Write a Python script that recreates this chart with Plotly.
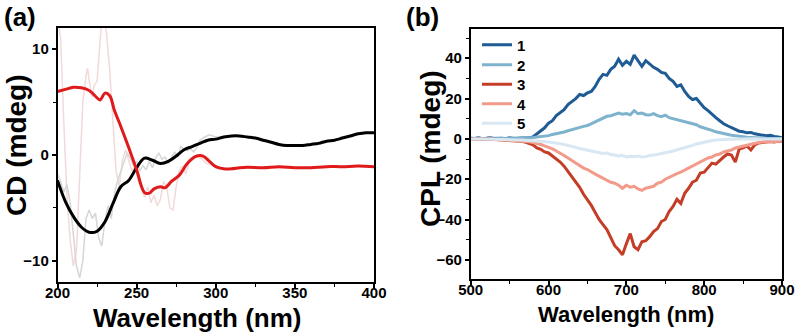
import plotly.graph_objects as go

# ---------------- Panel (a): CD ----------------
cd_wl = [200, 205, 210, 215, 220, 225, 230, 235, 240, 245, 250, 255, 260, 265, 270, 275, 280, 285,
         290, 295, 300, 305, 310, 315, 320, 325, 330, 335, 340, 345, 350, 355, 360, 365, 370, 375,
         380, 385, 390, 395, 400]
cd_black = [-2.4, -4.4, -5.8, -6.8, -7.3, -7.2, -6.3, -4.6, -3.0, -2.4, -1.2, -0.3, -0.5, -0.8, -0.6,
            -0.1, 0.5, 0.8, 1.1, 1.4, 1.5, 1.7, 1.8, 1.8, 1.7, 1.6, 1.4, 1.2, 1.0, 0.9, 0.9, 0.9, 1.0,
            1.1, 1.3, 1.4, 1.6, 1.8, 2.0, 2.1, 2.1]

cd_red_wl = [200, 205, 210, 215, 220, 225, 227, 230, 233, 236, 240, 245, 250, 255, 258, 261, 265, 268,
             272, 277, 282, 287, 292, 296, 300, 305, 310, 315, 320, 330, 340, 350, 360, 370, 380, 390, 400]
cd_red = [6.0, 6.2, 6.4, 6.35, 6.1, 5.4, 5.2, 5.85, 5.6, 4.2, 2.7, 0.7, -1.4, -3.55, -3.6, -3.2, -3.0,
          -3.1, -2.5, -1.9, -0.8, -0.15, -0.1, -0.6, -1.1, -1.3, -1.3, -1.2, -1.15, -1.2, -1.1, -1.2,
          -1.2, -1.1, -1.1, -1.05, -1.1]

raw_grey_wl = [200, 202, 204, 206, 208, 210, 212, 214, 216, 218, 220, 222, 224, 226, 228, 230, 232, 234,
               236, 238, 240, 242, 244, 246, 248, 250, 252, 254, 256, 258, 260, 262, 264, 266, 268, 270,
               272, 274, 276, 278, 280, 282, 284, 286, 288, 290, 293, 296, 300, 305, 310]
raw_grey = [-1.8, -2.5, -3.5, -2.8, -4.5, -7.5, -10.5, -11.6, -10.0, -6.0, -5.2, -6.0, -5.5, -7.8, -8.6,
            -6.2, -4.8, -6.0, -3.6, -2.4, -1.5, -0.5, 0.2, -0.3, -1.0, -0.6, -1.5, -1.0, -1.4, -0.6,
            -1.2, -0.3, 0.2, -0.4, -0.2, -0.8, -0.3, 0.3, -0.2, 0.8, 0.5, 0.4, 0.6, 0.3, 0.7, 1.4, 1.7,
            1.9, 1.7, 1.7, 1.8]

raw_pink_wl = [200, 202, 204, 206, 208, 210, 212, 214, 216, 218, 219, 220, 222, 223, 225, 227, 228, 230,
               231, 233, 235, 237, 239, 241, 243, 245, 247, 249, 251, 253, 255, 257, 259, 261, 263, 265,
               267, 269, 271, 273, 275, 277, 279, 281, 283, 285, 288, 291, 294, 297, 300, 305, 310]
raw_pink = [13.0, 11.0, 3.0, -4.0, -8.0, -10.5, -9.0, -2.0, 5.0, 7.5, 8.2, 7.0, 5.5, 6.5, 7.0, 11.0, 12.5,
            12.5, 11.5, 8.0, 3.0, -1.5, -3.0, -0.5, 0.5, -0.5, -1.5, -1.0, -2.5, -3.0, -4.0, -3.0, -4.5,
            -3.8, -4.8, -4.2, -2.5, -3.0, -5.0, -5.2, -3.0, -1.5, -1.0, -1.8, -0.8, -0.5, -0.2, -0.3,
            -0.8, -0.9, -1.2, -1.3, -1.3]

# ---------------- Panel (b): CPL ----------------
cpl_wl = list(range(500, 905, 5))
cpl_1 = [0.3, 0.2, 0.5, 0.1, 0.3, 0.6, 0.2, 0.4, 0.3, 0.1, 0.5, 0.2, 0.3, 0.4, 0.6, 0.5,
         1.0, 2.5, 4.2, 5.5, 7.8, 9.0, 11.5, 12.8, 14.5, 17.0, 18.5, 20.0, 22.0, 21.5, 22.8, 23.5,
         26.0, 29.5, 32.0, 31.5, 34.5, 36.0, 39.5, 36.5, 38.5, 37.0, 41.5, 38.5, 36.0, 38.8, 37.0,
         35.5, 34.5, 33.0, 32.5, 30.0, 28.5, 26.0, 26.8, 23.5, 21.0, 19.5, 20.0, 17.5, 15.5, 14.0,
         12.0, 10.5, 9.0, 7.5, 6.5, 5.5, 4.5, 3.8, 3.5, 3.0, 3.2, 2.5, 2.2, 2.0, 1.5, 1.8, 1.2, 1.0, 0.5]
cpl_2 = [0.2, 0.1, 0.3, 0.2, 0.1, 0.3, 0.2, 0.2, 0.3, 0.2, 0.4, 0.3, 0.3, 0.5, 0.4, 0.6,
         0.7, 0.9, 1.2, 1.5, 1.6, 2.2, 2.5, 3.0, 3.4, 4.0, 4.6, 5.0, 5.6, 6.2, 6.6, 7.5, 8.2, 9.5,
         10.0, 11.2, 11.5, 12.0, 12.8, 12.2, 12.6, 12.0, 14.0, 12.5, 12.8, 12.0, 11.8, 12.5, 11.5,
         11.0, 11.8, 10.5, 10.0, 9.8, 9.0, 8.5, 8.0, 7.5, 7.0, 6.0, 5.5, 5.0, 4.2, 3.5, 3.0, 2.5,
         2.0, 1.8, 1.5, 1.2, 1.0, 0.8, 0.7, 0.5, 0.5, 0.4, 0.3, 0.3, 0.2, 0.2, 0.2]
cpl_3 = [0.0, -0.1, 0.1, -0.2, 0.0, -0.1, -0.2, -0.3, -0.4, -0.5, -0.6,
         -0.8, -1.0, -1.2, -1.6, -2.2, -3.0, -4.5, -5.2, -6.5, -7.0, -8.5, -10.0, -11.5, -13.5,
         -16.0, -18.5, -21.0, -24.0, -27.5, -30.0, -33.0, -36.5, -40.0, -42.5, -45.0, -49.0, -53.0,
         -55.0, -57.5, -52.0, -47.0, -53.5, -55.0, -51.0, -50.5, -48.5, -46.0, -44.5, -41.0, -40.0,
         -36.0, -33.5, -30.0, -32.0, -27.0, -24.5, -21.5, -20.5, -17.0, -16.5, -14.5, -12.0, -12.5,
         -10.5, -9.0, -7.5, -8.0, -11.5, -5.0, -4.5, -3.5, -5.5, -3.0, -2.0, -1.8, -1.5, -1.3, -1.5,
         -1.2, -1.3]
cpl_4 = [0.0, -0.1, 0.0, -0.2, -0.1, -0.2, -0.3, -0.3, -0.4, -0.5, -0.6, -0.7, -0.9,
         -1.0, -1.2, -1.4, -1.8, -2.2, -2.8, -3.5, -4.2, -5.0, -6.0, -7.0, -8.2, -9.5, -10.8, -12.0,
         -13.0, -14.5, -15.2, -16.5, -17.5, -18.5, -19.5, -20.2, -21.5, -22.0, -23.0, -24.5, -23.0,
         -24.0, -23.5, -24.8, -25.5, -24.5, -24.0, -23.5, -22.0, -21.5, -20.0, -19.0, -18.0, -17.2,
         -16.5, -15.5, -14.5, -13.5, -12.5, -11.5, -10.5, -9.5, -9.0, -8.0, -7.5, -6.5, -6.0, -5.5,
         -4.5, -4.0, -3.5, -3.0, -2.5, -2.2, -1.8, -1.5, -1.4, -1.3, -1.3, -1.2, -1.2]
cpl_5 = [0.0, 0.1, 0.0, -0.1, 0.0, -0.1, -0.2, -0.2, -0.3, -0.3, -0.4, -0.5, -0.5, -0.6, -0.7,
         -0.8, -0.9, -1.0, -1.1,
         -1.3, -1.5, -1.8, -2.0, -2.4, -2.8, -3.2, -3.8, -4.2, -4.8, -5.2, -5.5, -6.0, -6.5, -6.8,
         -7.2, -7.0, -7.8, -8.0, -8.5, -8.2, -9.0, -8.6, -8.8, -8.5, -9.0, -8.8, -8.2, -8.0, -7.8,
         -7.2, -7.0, -6.5, -6.0, -5.5, -5.0, -4.3, -3.8, -3.2, -2.5, -2.0, -1.5, -1.2, -0.8, -0.6,
         -0.4, -0.3, -0.2, -0.2, -0.1, -0.1, 0.0, 0.0, 0.0, 0.1, 0.0, 0.0, 0.1, 0.0, 0.0, 0.0, 0.0]

cpl_names = ["1", "2", "3", "4", "5"]
cpl_values = [cpl_1, cpl_2, cpl_3, cpl_4, cpl_5]
cpl_colors = ["#1f5b94", "#7fb2cc", "#c43d26", "#f29b8a", "#d8e7f2"]

FONT = "Liberation Sans"
W, H = 799, 335

fig = go.Figure()

# Panel (a) traces
fig.add_trace(go.Scatter(x=raw_pink_wl, y=raw_pink, mode="lines", line=dict(color="#f2dada", width=1.5),
                         showlegend=False, xaxis="x", yaxis="y"))
fig.add_trace(go.Scatter(x=raw_grey_wl, y=raw_grey, mode="lines", line=dict(color="#d6d6d6", width=1.5),
                         showlegend=False, xaxis="x", yaxis="y"))
fig.add_trace(go.Scatter(x=cd_wl, y=cd_black, mode="lines", line=dict(color="#000000", width=3, shape="spline"),
                         showlegend=False, xaxis="x", yaxis="y"))
fig.add_trace(go.Scatter(x=cd_red_wl, y=cd_red, mode="lines", line=dict(color="#e0191b", width=3, shape="spline"),
                         showlegend=False, xaxis="x", yaxis="y"))

# Panel (b) traces, each with its own legend box so the entry spacing matches
legend_rows_px = [45, 65, 84.5, 104, 123.5]
legend_layouts = {}
for i, (name, vals, col) in enumerate(zip(cpl_names, cpl_values, cpl_colors)):
    lg = "legend" if i == 0 else f"legend{i + 1}"
    fig.add_trace(go.Scatter(x=cpl_wl[:len(vals)], y=vals, mode="lines", name=name, legend=lg,
                             line=dict(color=col, width=3), xaxis="x2", yaxis="y2"))
    legend_layouts[lg] = dict(x=477 / W, y=1 - legend_rows_px[i] / H, xanchor="left", yanchor="middle",
                              bgcolor="rgba(0,0,0,0)", borderwidth=0,
                              font=dict(family=FONT, size=15, color="black", weight="bold"),
                              itemwidth=30, tracegroupgap=0)

axis_common = dict(showline=True, linecolor="black", linewidth=1.5, mirror=True, ticks="outside",
                   ticklen=4, tickwidth=1.5, tickcolor="black", showgrid=False, zeroline=False,
                   tickfont=dict(family=FONT, size=15, color="black", weight="bold"),
                   automargin=False)
minor_common = dict(ticks="outside", ticklen=3, tickcolor="black", tickwidth=1.2)

# panel boxes in pixels (left, right, top, bottom)
box1 = (57.5, 374, 28, 282)
box2 = (470.7, 782, 29, 279)
xd1 = [box1[0] / W, box1[1] / W]
yd1 = [1 - box1[3] / H, 1 - box1[2] / H]
xd2 = [box2[0] / W, box2[1] / W]
yd2 = [1 - box2[3] / H, 1 - box2[2] / H]


def title_ann(text, x_px, y_px, size, angle=0):
    return dict(text=text, x=x_px / W, y=1 - y_px / H, xref="paper", yref="paper",
                xanchor="center", yanchor="middle", textangle=angle, showarrow=False,
                font=dict(family=FONT, size=size, color="black", weight="bold"))


fig.update_layout(
    width=W, height=H, margin=dict(l=0, r=0, t=0, b=0),
    paper_bgcolor="white", plot_bgcolor="white",
    xaxis=dict(domain=xd1, range=[200, 400], tickvals=[200, 250, 300, 350, 400],
               minor=dict(dtick=25, **minor_common), ticklabelstandoff=-8,
               anchor="y", **axis_common),
    yaxis=dict(domain=yd1, range=[-12, 12], tickvals=[-10, 0, 10],
               minor=dict(dtick=5, **minor_common), anchor="x", **axis_common),
    xaxis2=dict(domain=xd2, range=[500, 900], tickvals=[500, 600, 700, 800, 900],
                minor=dict(dtick=50, **minor_common), ticklabelstandoff=-8,
                anchor="y2", **axis_common),
    yaxis2=dict(domain=yd2, range=[-69.5, 54.5], tickvals=[-60, -40, -20, 0, 20, 40],
                minor=dict(dtick=10, **minor_common), anchor="x2", **axis_common),
    annotations=[
        dict(text="(a)", x=2 / W, y=1 - 0 / H, xref="paper", yref="paper", xanchor="left", yanchor="top",
             showarrow=False, font=dict(family=FONT, size=26, color="black", weight="bold")),
        dict(text="(b)", x=404 / W, y=1 - 0 / H, xref="paper", yref="paper", xanchor="left", yanchor="top",
             showarrow=False, font=dict(family=FONT, size=26, color="black", weight="bold")),
        title_ann("Wavelength (nm)", 197, 318, 26),
        title_ann("Wavelength (nm)", 626, 314, 22),
        title_ann("CD (mdeg)", 17, 145, 28, -90),
        title_ann("CPL (mdeg)", 430, 149, 28, -90),
    ],
    **legend_layouts,
)

fig.write_html("out.html")
